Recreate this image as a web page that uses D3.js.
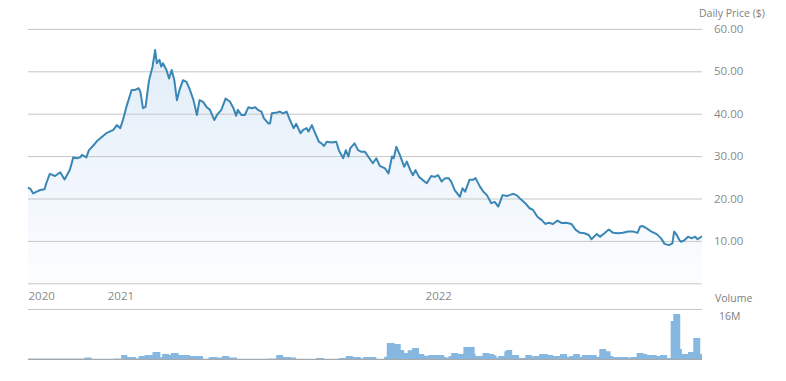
<!DOCTYPE html>
<html>
<head>
<meta charset="utf-8">
<script src="https://cdn.jsdelivr.net/npm/d3@7"></script>
<style>
  body { margin: 0; background: #fff; }
  text { font-family: "Open Sans", sans-serif; }
</style>
</head>
<body>
<div class="card"></div>
<script>
// chart data (days counted from the first trading day shown)
var startDate = new Date(2020, 9, 2);
var lastDay = 774;

var priceDays = [0, 3, 6, 10, 14, 19, 21, 25, 31, 37, 42, 48, 52, 56, 60, 62, 67, 70, 75, 79,
  83, 90, 98, 102, 106, 109, 113, 119, 123, 127, 129, 132, 135, 139, 143, 146, 148, 151, 153, 155,
  159, 162, 165, 168, 171, 174, 178, 182, 186, 190, 194, 197, 201, 205, 209, 214, 217, 222, 227, 232,
  236, 239, 241, 245, 249, 253, 257, 261, 264, 268, 271, 276, 278, 280, 286, 289, 293, 297, 300, 305,
  308, 313, 316, 320, 322, 326, 329, 334, 337, 340, 343, 349, 354, 357, 362, 365, 368, 370, 375, 379,
  383, 387, 392, 396, 400, 404, 410, 414, 418, 420, 423, 427, 432, 435, 439, 442, 445, 449, 453, 458,
  463, 467, 471, 475, 479, 483, 486, 490, 496, 499, 502, 507, 511, 514, 519, 523, 527, 532, 536, 540,
  545, 550, 553, 557, 561, 566, 571, 576, 580, 585, 590, 594, 598, 603, 608, 613, 618, 624, 629, 634,
  639, 644, 647, 653, 657, 662, 667, 672, 678, 683, 689, 695, 700, 703, 706, 710, 716, 722, 727, 731,
  736, 740, 742, 745, 748, 750, 754, 758, 762, 766, 769, 774];

var prices = [22.6, 22.2, 21.2, 21.6, 22.0, 22.2, 23.6, 25.8, 25.3, 26.2, 24.5, 26.7, 29.7, 29.5, 29.7, 30.3, 29.7, 31.4, 32.5, 33.5,
  34.2, 35.4, 36.2, 37.3, 36.6, 38.5, 41.6, 45.6, 45.6, 46.0, 45.2, 41.3, 41.6, 47.9, 51.1, 55.0, 51.9, 52.7, 51.1, 51.9,
  50.3, 48.3, 50.3, 47.9, 43.2, 45.6, 47.9, 47.5, 45.6, 43.2, 39.7, 43.2, 42.8, 41.6, 40.9, 38.5, 39.7, 40.9, 43.6, 42.8,
  41.3, 39.5, 40.9, 39.7, 39.7, 41.5, 41.3, 41.5, 40.9, 40.5, 38.9, 37.7, 37.7, 40.1, 40.3, 40.5, 40.1, 40.5, 38.9, 36.6,
  37.6, 35.4, 36.2, 36.6, 35.8, 37.3, 35.8, 33.4, 33.0, 32.4, 33.4, 33.2, 33.4, 31.4, 29.5, 31.4, 29.9, 31.8, 33.0, 31.4,
  31.0, 31.0, 29.5, 28.3, 29.5, 27.7, 27.1, 25.9, 29.9, 29.5, 32.2, 30.3, 27.5, 28.7, 26.7, 25.5, 26.7, 25.1, 24.4, 23.6,
  25.3, 25.1, 25.5, 24.0, 24.8, 24.8, 24.0, 22.0, 20.4, 22.4, 21.6, 24.4, 24.4, 24.8, 22.8, 21.6, 20.8, 18.9, 19.2, 18.1,
  20.8, 20.6, 20.8, 21.1, 20.8, 19.8, 18.9, 17.7, 17.3, 15.7, 14.9, 14.0, 14.3, 14.0, 14.8, 14.2, 14.3, 14.0, 12.6, 11.9,
  11.8, 11.4, 10.4, 11.6, 11.0, 11.8, 12.7, 11.9, 11.8, 11.9, 12.2, 12.2, 11.9, 13.4, 13.5, 13.0, 12.2, 11.6, 10.6, 9.3,
  9.0, 9.4, 12.2, 11.4, 10.2, 9.8, 10.2, 11.0, 10.6, 11.0, 10.4, 11.1];

// volume in millions, step changes
var volumeDays = [0, 65, 73, 99, 107, 114, 124, 127, 134, 143, 152, 154, 162, 164, 173, 186, 201, 207, 209, 217,
  223, 231, 240, 244, 275, 285, 293, 302, 308, 331, 340, 348, 357, 365, 373, 382, 385, 400, 409, 412,
  421, 428, 432, 436, 441, 449, 455, 460, 478, 480, 483, 486, 494, 500, 513, 514, 522, 530, 535, 538,
  540, 547, 549, 556, 564, 571, 579, 580, 587, 597, 603, 611, 619, 622, 626, 634, 636, 653, 656, 664,
  669, 672, 689, 692, 699, 707, 711, 722, 726, 734, 738, 741, 749, 751, 758, 764, 772, 774];

var volumes = [0.15, 0.5, 0.12, 0.15, 1.4, 0.7, 0.25, 1.07, 1.4, 2.5, 0.6, 1.8, 1.4, 2.1, 1.4, 1.07, 0.12, 0.5, 0.7, 0.5,
  1.07, 0.5, 0.12, 0.1, 0.15, 1.4, 0.7, 0.5, 0.1, 0.35, 0.12, 0.05, 0.35, 1.07, 0.7, 0.25, 0.7, 0.12, 0.8, 5.7,
  5.3, 3.2, 2.1, 3.1, 3.9, 1.8, 1.2, 1.4, 0.7, 0.5, 1.07, 2.1, 1.8, 4.3, 1.8, 1.07, 2.1, 1.8, 1.3, 0.5,
  1.07, 2.8, 3.2, 1.4, 0.35, 1.4, 0.8, 1.07, 1.8, 1.4, 1.07, 1.8, 0.8, 1.07, 1.8, 0.7, 1.4, 0.8, 3.55, 2.8,
  1.07, 0.7, 0.5, 0.7, 2.1, 1.8, 1.4, 1.07, 1.4, 0.35, 13.5, 16.0, 3.55, 1.8, 2.5, 7.5, 1.8, 1.8];

var priceTicks = [10, 20, 30, 40, 50, 60];
var gridTicks = [0, 10, 20, 30, 40, 50, 60];
var yearTicks = [startDate, new Date(2021, 0, 1), new Date(2022, 0, 1)];

var width = 786, height = 381;
var left = 28, right = 702;

function dayToDate(d) { return d3.timeDay.offset(startDate, d); }

var priceData = priceDays.map(function(d, i) { return { date: dayToDate(d), value: prices[i] }; });
var volData = volumeDays.map(function(d, i) { return { date: dayToDate(d), value: volumes[i] }; });

var svg = d3.select('.card')
  .append('svg')
  .attr('width', width)
  .attr('height', height);

var x = d3.scaleTime().domain([startDate, dayToDate(lastDay)]).range([left, right]);
var y = d3.scaleLinear().domain([0, 60]).range([283.3, 28.9]);
var yVol = d3.scaleLinear().domain([0, 16]).range([359, 314]);

// area gradient
var grad = svg.append('defs').append('linearGradient')
  .attr('id', 'fillGrad')
  .attr('gradientUnits', 'userSpaceOnUse')
  .attr('x1', 0).attr('x2', 0)
  .attr('y1', y(55)).attr('y2', y(0));
grad.append('stop').attr('offset', '0%').attr('stop-color', '#e1edf8');
grad.append('stop').attr('offset', '100%').attr('stop-color', '#fcfdff');

var area = d3.area()
  .x(function(d) { return x(d.date); })
  .y0(y(0))
  .y1(function(d) { return y(d.value); });

svg.append('path')
  .datum(priceData)
  .attr('d', area)
  .style('fill', 'url(#fillGrad)');

// horizontal grid
var grid = d3.axisLeft(y).tickValues(gridTicks).tickSize(right - left).tickFormat('');
svg.append('g')
  .attr('transform', 'translate(' + right + ',0)')
  .call(grid)
  .call(function(g) { g.select('.domain').remove(); })
  .selectAll('line')
  .attr('stroke', '#c6c6c6');

// price line
var line = d3.line()
  .x(function(d) { return x(d.date); })
  .y(function(d) { return y(d.value); });

svg.append('path')
  .datum(priceData)
  .attr('d', line)
  .style('fill', 'none')
  .style('stroke', '#3a87b6')
  .style('stroke-width', 2)
  .style('stroke-linejoin', 'round');

// price labels
var priceAxis = d3.axisRight(y).tickValues(priceTicks).tickSize(0).tickPadding(12).tickFormat(d3.format('.2f'));
svg.append('g')
  .attr('transform', 'translate(' + right + ',0)')
  .call(priceAxis)
  .call(function(g) { g.select('.domain').remove(); })
  .selectAll('text')
  .style('font-family', '"Open Sans", sans-serif')
  .style('font-size', '11.5px')
  .style('fill', '#8a8a8a');

svg.append('text')
  .attr('x', 699).attr('y', 17)
  .text('Daily Price ($)')
  .style('font-size', '10.5px')
  .style('fill', '#808080');

// year labels
var xAxis = d3.axisBottom(x).tickValues(yearTicks).tickSize(0).tickPadding(9).tickFormat(d3.timeFormat('%Y'));
svg.append('g')
  .attr('transform', 'translate(0,283.3)')
  .call(xAxis)
  .call(function(g) { g.select('.domain').remove(); })
  .selectAll('text')
  .attr('text-anchor', 'start')
  .style('font-family', '"Open Sans", sans-serif')
  .style('font-size', '11.5px')
  .style('fill', '#8a8a8a');

// volume panel
svg.append('line')
  .attr('x1', left).attr('x2', right)
  .attr('y1', 309.5).attr('y2', 309.5)
  .attr('stroke', '#c6c6c6');

var volArea = d3.area()
  .curve(d3.curveStepAfter)
  .x(function(d) { return x(d.date); })
  .y0(yVol(0))
  .y1(function(d) { return yVol(d.value); });

svg.append('path')
  .datum(volData)
  .attr('d', volArea)
  .style('fill', '#86b7e0');

svg.append('line')
  .attr('x1', left).attr('x2', right)
  .attr('y1', 359.5).attr('y2', 359.5)
  .attr('stroke', '#a8a8a8');

svg.append('text')
  .attr('x', 715).attr('y', 302)
  .text('Volume')
  .style('font-size', '10.5px')
  .style('fill', '#808080');

svg.append('text')
  .attr('x', 719).attr('y', 320)
  .text('16M')
  .style('font-size', '10.5px')
  .style('fill', '#808080');
</script>
</body>
</html>
